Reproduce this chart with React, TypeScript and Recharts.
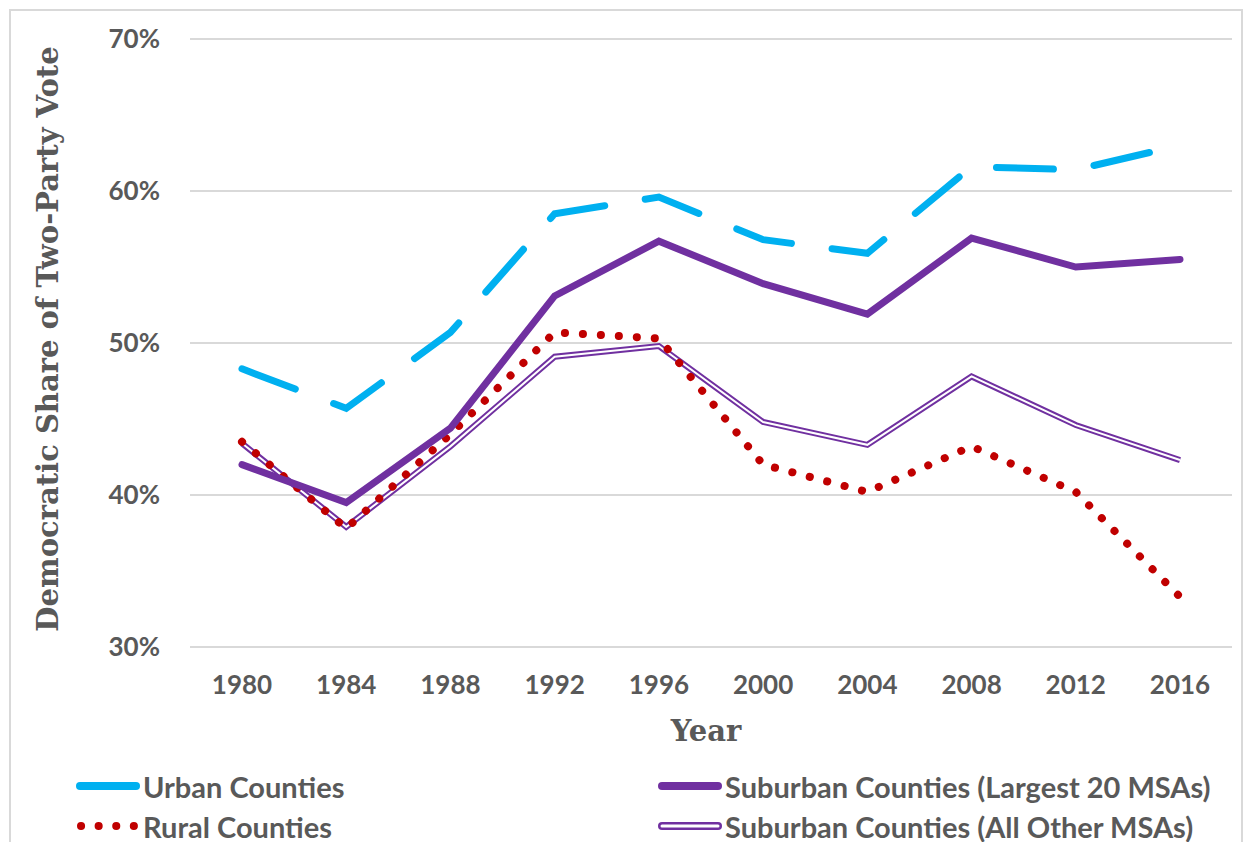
import { LineChart, Line, XAxis, YAxis, CartesianGrid, Label } from 'recharts';

const years = ['1980', '1984', '1988', '1992', '1996', '2000', '2004', '2008', '2012', '2016'];
const urban = [48.3, 45.7, 50.7, 58.5, 59.6, 56.8, 55.9, 61.6, 61.4, 63.0];
const suburbanLargest = [42.0, 39.5, 44.4, 53.1, 56.7, 53.9, 51.9, 56.9, 55.0, 55.5];
const rural = [43.5, 37.8, 44.0, 50.7, 50.3, 42.0, 40.2, 43.2, 40.2, 33.3];
const suburbanOther = [43.4, 37.9, 43.2, 49.1, 49.8, 44.8, 43.3, 47.8, 44.6, 42.3];
const yTicks = [30, 40, 50, 60, 70];

const BLUE = '#00b0f0';
const PURPLE = '#7030a0';
const RED = '#c00000';
const TEXT = '#595959';

const data = years.map((year, i) => ({
    year,
    urban: urban[i],
    suburbanLargest: suburbanLargest[i],
    rural: rural[i],
    suburbanOther: suburbanOther[i],
}));

const legendStyle = {
    position: 'absolute' as const,
    fontFamily: 'Lato, sans-serif',
    fontWeight: 700,
    fontSize: 29,
    color: TEXT,
    display: 'flex',
    alignItems: 'center',
    whiteSpace: 'nowrap' as const,
};

const Swatch = ({ kind }: { kind: string }) => (
    <svg width={64} height={16} style={{ marginRight: 3 }}>
        {kind === 'urban' && <line x1={4} y1={8} x2={60} y2={8} stroke={BLUE} strokeWidth={8} strokeLinecap="round" />}
        {kind === 'largest' && <line x1={4} y1={8} x2={60} y2={8} stroke={PURPLE} strokeWidth={8} strokeLinecap="round" />}
        {kind === 'rural' && <line x1={5} y1={8} x2={60} y2={8} stroke={RED} strokeWidth={8} strokeLinecap="round" strokeDasharray="0.1 17.5" />}
        {kind === 'other' && (
            <g>
                <line x1={4} y1={8} x2={60} y2={8} stroke={PURPLE} strokeWidth={8} strokeLinecap="round" />
                <line x1={4} y1={8} x2={60} y2={8} stroke="#fff" strokeWidth={3} strokeLinecap="round" />
            </g>
        )}
    </svg>
);

const legendItems = [
    { kind: 'urban', label: 'Urban Counties', left: 76, top: 770 },
    { kind: 'largest', label: 'Suburban Counties (Largest 20 MSAs)', left: 658, top: 770 },
    { kind: 'rural', label: 'Rural Counties', left: 76, top: 810 },
    { kind: 'other', label: 'Suburban Counties (All Other MSAs)', left: 658, top: 810 },
];

export default function App() {
    return (
        <div style={{ position: 'absolute', left: 0, top: 0, width: 1246, height: 842, background: '#fff', overflow: 'hidden' }}>
            <div style={{ position: 'absolute', left: 9, top: 9, width: 1230, height: 850, border: '2px solid #d9d9d9' }} />
            <div style={{ position: 'absolute', left: 0, top: 0 }}>
                <LineChart
                    width={1246}
                    height={760}
                    data={data}
                    margin={{ top: 39, right: 14, left: 0, bottom: 13 }}
                    style={{ fontFamily: 'Lato, sans-serif' }}
                >
                    <CartesianGrid vertical={false} stroke="#d9d9d9" strokeWidth={2} />
                    <XAxis
                        dataKey="year"
                        axisLine={false}
                        tickLine={false}
                        tickSize={0}
                        tickMargin={29}
                        height={100}
                        padding={{ left: 52, right: 52 }}
                        tick={{ fill: TEXT, fontSize: 26, fontWeight: 700 }}
                        interval={0}
                    >
                        <Label
                            content={({ viewBox }: any) => (
                                <text
                                    x={viewBox.x + viewBox.width / 2 - 5}
                                    y={viewBox.y + 94}
                                    textAnchor="middle"
                                    fill={TEXT}
                                    fontFamily="'DejaVu Serif', serif"
                                    fontWeight={700}
                                    fontSize={29}
                                >
                                    Year
                                </text>
                            )}
                        />
                    </XAxis>
                    <YAxis
                        domain={[30, 70]}
                        ticks={yTicks}
                        tickFormatter={(v) => `${v}%`}
                        axisLine={false}
                        tickLine={false}
                        tickSize={0}
                        tickMargin={30}
                        width={190}
                        tick={{ fill: TEXT, fontSize: 26, fontWeight: 700 }}
                    >
                        <Label
                            content={({ viewBox }: any) => {
                                const cx = 48;
                                const cy = viewBox.y + viewBox.height / 2 - 4;
                                return (
                                    <text
                                        x={cx}
                                        y={cy}
                                        transform={`rotate(-90, ${cx}, ${cy})`}
                                        textAnchor="middle"
                                        dominantBaseline="central"
                                        fill={TEXT}
                                        fontFamily="'DejaVu Serif', serif"
                                        fontWeight={700}
                                        fontSize={29}
                                    >
                                        Democratic Share of Two-Party Vote
                                    </text>
                                );
                            }}
                        />
                    </YAxis>
                    <Line dataKey="suburbanOther" stroke={PURPLE} strokeWidth={6} dot={false} isAnimationActive={false} />
                    <Line dataKey="suburbanOther" stroke="#ffffff" strokeWidth={2} dot={false} isAnimationActive={false} />
                    <Line
                        dataKey="rural"
                        stroke={RED}
                        strokeWidth={8}
                        strokeLinecap="round"
                        strokeDasharray="0.1 17.9"
                        dot={false}
                        isAnimationActive={false}
                    />
                    <Line dataKey="suburbanLargest" stroke={PURPLE} strokeWidth={7} strokeLinecap="round" dot={false} isAnimationActive={false} />
                    <Line
                        dataKey="urban"
                        stroke={BLUE}
                        strokeWidth={7}
                        strokeLinecap="round"
                        strokeDasharray="57 41"
                        dot={false}
                        isAnimationActive={false}
                    />
                </LineChart>
            </div>
            {legendItems.map((item) => (
                <div key={item.kind} style={{ ...legendStyle, left: item.left, top: item.top, height: 32 }}>
                    <Swatch kind={item.kind} />
                    <span>{item.label}</span>
                </div>
            ))}
        </div>
    );
}
